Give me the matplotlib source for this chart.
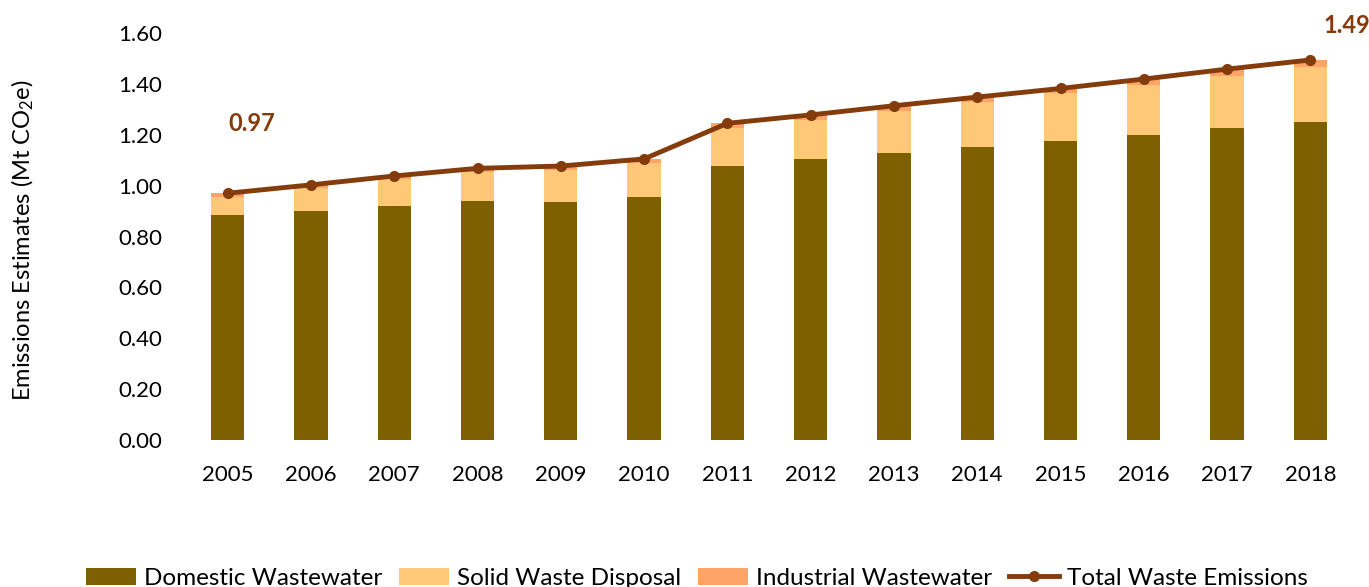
import numpy as np
import matplotlib
matplotlib.use("Agg")
import matplotlib.pyplot as plt

plt.rcParams['font.family'] = ['Lato', 'DejaVu Sans']
plt.rcParams['mathtext.fontset'] = 'custom'
plt.rcParams['mathtext.rm'] = 'Lato'
plt.rcParams['mathtext.default'] = 'regular'

years = ['2005', '2006', '2007', '2008', '2009', '2010', '2011',
         '2012', '2013', '2014', '2015', '2016', '2017', '2018']
domestic = [0.884, 0.901, 0.920, 0.938, 0.935, 0.954, 1.078,
            1.103, 1.128, 1.152, 1.177, 1.200, 1.226, 1.251]
solid = [0.072, 0.088, 0.105, 0.115, 0.126, 0.134, 0.150,
         0.155, 0.165, 0.177, 0.186, 0.197, 0.205, 0.215]
industrial = [0.014, 0.014, 0.013, 0.015, 0.016, 0.017, 0.017,
              0.020, 0.021, 0.019, 0.019, 0.022, 0.027, 0.028]
total = [0.970, 1.003, 1.038, 1.068, 1.077, 1.105, 1.245,
         1.278, 1.314, 1.348, 1.382, 1.419, 1.458, 1.494]

c_dom = '#7F6000'
c_solid = '#FFC878'
c_ind = '#FFA366'
c_line = '#843C0C'

fig = plt.figure(figsize=(13.69, 5.87), dpi=100)
ax = fig.add_axes([0.1359, 0.2504, 0.8517, 0.6934])

x = np.arange(len(years))
w = 0.4
dom = np.array(domestic)
sol = np.array(solid)
ax.bar(x, dom, w, color=c_dom, label='Domestic Wastewater')
ax.bar(x, sol, w, bottom=dom, color=c_solid, label='Solid Waste Disposal')
ax.bar(x, industrial, w, bottom=dom + sol, color=c_ind, label='Industrial Wastewater')
ax.plot(x, total, color=c_line, lw=3.5, marker='o', ms=7, label='Total Waste Emissions')

ax.annotate(f'{total[0]:.2f}', (x[0], total[0]), xytext=(17, 50), textcoords='offset points',
            ha='center', va='center', fontsize=17, fontweight='bold', color=c_line)
ax.annotate(f'{total[-1]:.2f}', (x[-1], total[-1]), xytext=(26, 25), textcoords='offset points',
            ha='center', va='center', fontsize=17, fontweight='bold', color=c_line,
            annotation_clip=False)

ax.set_xlim(-0.5, len(years) - 0.5)
ax.set_ylim(0, 1.6)
ax.set_yticks(np.arange(0, 1.61, 0.2))
ax.set_yticklabels([f'{v:.2f}' for v in np.arange(0, 1.61, 0.2)])
ax.set_xticks(x)
ax.set_xticklabels(years)
ax.tick_params(axis='both', length=0, labelsize=16, colors='black')
ax.tick_params(axis='x', pad=18)
ax.tick_params(axis='y', pad=17)
for s in ax.spines.values():
    s.set_visible(False)
fig.text(0.017, 0.591, 'Emissions Estimates (Mt CO$_2$e)', fontsize=17,
         rotation=90, ha='center', va='center')

handles, labels = ax.get_legend_handles_labels()
order = [1, 2, 3, 0]
fig.legend([handles[i] for i in order], [labels[i] for i in order],
           loc='center', bbox_to_anchor=(0.509, 0.015), ncol=4, frameon=False,
           fontsize=17.5, handlelength=2.05, handleheight=0.75, handletextpad=0.33,
           columnspacing=0.7)

fig.savefig('out.png', dpi=100)
